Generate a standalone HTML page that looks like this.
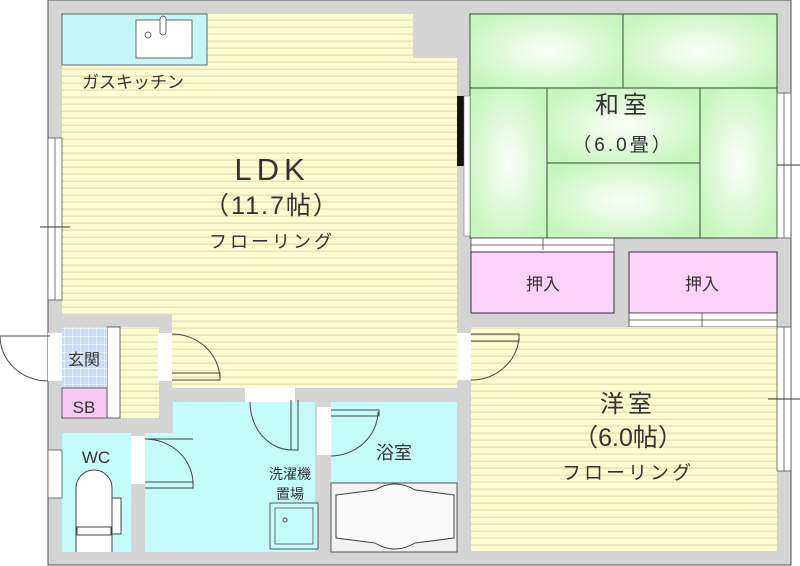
<!DOCTYPE html>
<html><head><meta charset="utf-8"><style>
html,body{margin:0;padding:0;background:#fff;width:800px;height:566px;overflow:hidden}
svg{display:block}
text{font-family:"Liberation Sans","Noto Sans CJK JP",sans-serif;fill:#333}
</style></head><body>
<svg width="800" height="566" viewBox="0 0 800 566" xmlns="http://www.w3.org/2000/svg">
<defs>
<pattern id="fl" width="8" height="7" patternUnits="userSpaceOnUse">
<rect width="8" height="7" fill="#fefdd2"/><rect y="5.5" width="8" height="1.3" fill="#e2dfae"/>
</pattern>
<radialGradient id="tg" cx="50%" cy="50%" r="60%">
<stop offset="0" stop-color="#fbfff8"/><stop offset="1" stop-color="#c6f5bd"/>
</radialGradient>
<pattern id="tile" width="8" height="8" patternUnits="userSpaceOnUse">
<rect width="8" height="8" fill="#c9dcf7"/><path d="M0 0H8M0 0V8" stroke="#ffffff" stroke-width="1"/>
</pattern>
</defs>
<rect x="48" y="0" width="743" height="565" fill="#d4d4d4" stroke="#555" stroke-width="1"/>
<rect x="62" y="14" width="395" height="300" fill="url(#fl)"/>
<rect x="172" y="300" width="285" height="88" fill="url(#fl)"/>
<rect x="120" y="327" width="39" height="91" fill="url(#fl)"/>
<rect x="107" y="327" width="13" height="91" fill="#fff" stroke="#444" stroke-width="0.8"/>
<rect x="413" y="14" width="44" height="44" fill="#d4d4d4"/>
<rect x="62" y="14" width="145" height="51" fill="#c5f7f8" stroke="#444" stroke-width="0.8"/>
<rect x="136" y="20" width="56" height="38" fill="#fff" stroke="#444" stroke-width="0.8"/>
<circle cx="148" cy="35" r="3" fill="#fff" stroke="#444" stroke-width="0.8"/>
<rect x="160" y="16" width="6" height="19" rx="3" fill="#fff" stroke="#444" stroke-width="0.8"/>
<rect x="48" y="138" width="14" height="162" fill="#fff" stroke="#555" stroke-width="0.8"/>
<line x1="55" y1="138" x2="55" y2="300" stroke="#555" stroke-width="0.8"/>
<line x1="40" y1="227" x2="70" y2="227" stroke="#333"/>
<g stroke="#3a4a3a" stroke-width="1">
<rect x="470" y="14" width="153" height="74" fill="url(#tg)"/>
<rect x="623" y="14" width="154" height="74" fill="url(#tg)"/>
<rect x="470" y="88" width="77" height="150" fill="url(#tg)"/>
<rect x="547" y="88" width="153" height="75" fill="url(#tg)"/>
<rect x="547" y="163" width="153" height="75" fill="url(#tg)"/>
<rect x="700" y="88" width="77" height="150" fill="url(#tg)"/>
</g>
<rect x="457" y="96" width="7" height="70" fill="#111"/>
<rect x="464" y="96" width="6" height="140" fill="#fff" stroke="#777" stroke-width="0.6"/>
<rect x="777" y="93" width="14" height="145" fill="#fff" stroke="#555" stroke-width="0.8"/>
<line x1="784" y1="93" x2="784" y2="238" stroke="#555" stroke-width="0.8"/>
<line x1="777" y1="165" x2="800" y2="165" stroke="#333"/>
<rect x="471" y="238" width="143" height="14" fill="#fff" stroke="#444" stroke-width="0.8"/>
<line x1="471" y1="245" x2="614" y2="245" stroke="#444" stroke-width="0.8"/>
<line x1="543" y1="238" x2="543" y2="250" stroke="#444" stroke-width="0.8"/>
<rect x="471" y="252" width="143" height="61" fill="#fdd2fb" stroke="#333" stroke-width="1"/>
<rect x="629" y="252" width="148" height="61" fill="#fdd2fb" stroke="#333" stroke-width="1"/>
<rect x="629" y="313" width="148" height="14" fill="#fff" stroke="#444" stroke-width="0.8"/>
<line x1="629" y1="320" x2="777" y2="320" stroke="#444" stroke-width="0.8"/>
<line x1="702" y1="313" x2="702" y2="327" stroke="#444" stroke-width="0.8"/>
<rect x="471" y="327" width="306" height="224" fill="url(#fl)"/>
<rect x="777" y="327" width="14" height="144" fill="#fff" stroke="#555" stroke-width="0.8"/>
<line x1="784" y1="327" x2="784" y2="471" stroke="#555" stroke-width="0.8"/>
<line x1="768" y1="399" x2="800" y2="399" stroke="#333"/>
<rect x="457" y="333" width="14" height="47" fill="#fff"/>
<path d="M471 334 H519 V341 H471 M471 380 A48 46 0 0 0 519 338" fill="none" stroke="#444"/>
<rect x="62" y="327" width="45" height="61" fill="url(#tile)"/>
<rect x="62" y="388" width="45" height="30" fill="#f8c8f4" stroke="#444" stroke-width="0.8"/>
<rect x="48" y="333" width="14" height="48" fill="#fff"/>
<path d="M0 336 H50 M0 336 A48 45 0 0 0 48 381" fill="none" stroke="#444"/>
<rect x="158" y="333" width="14" height="48" fill="#fff"/>
<path d="M172 380 H220 V373 H172 M172 334 A48 46 0 0 1 220 378" fill="none" stroke="#444"/>
<!-- washroom -->
<rect x="173" y="402" width="142" height="150" fill="#c5fbfb"/>
<rect x="145" y="433" width="170" height="119" fill="#c5fbfb"/>
<rect x="62" y="433" width="69" height="119" fill="#c5fbfb"/>
<rect x="131" y="436" width="14" height="48" fill="#fff"/>
<path d="M145 439 H193 M145 488 H193 V482 H145 M145 439 A48 45 0 0 1 193 484" fill="none" stroke="#444"/>
<rect x="48" y="450" width="14" height="48" fill="#fff" stroke="#555" stroke-width="0.8"/>
<path d="M76 552 V488 A18 18 0 0 1 112 488 V552" fill="#fff" stroke="#444"/>
<rect x="112" y="498" width="9" height="36" fill="#fff" stroke="#444"/>
<rect x="77" y="527" width="34" height="8" fill="#fff" stroke="#444"/>
<rect x="245" y="388" width="50" height="14" fill="#fff"/>
<path d="M291 400 V450 H298 V400 M250 402 A42 48 0 0 0 292 450" fill="none" stroke="#444"/>
<rect x="270" y="503" width="48" height="46" fill="#c5fbfb" stroke="#555"/>
<rect x="275" y="508" width="38" height="36" fill="none" stroke="#555" stroke-width="0.8"/>
<circle cx="285" cy="520" r="2" fill="none" stroke="#555"/>
<rect x="331" y="402" width="126" height="150" fill="#c5fbfb"/>
<rect x="317" y="407" width="14" height="48" fill="#fff"/>
<path d="M331 410 H379 V416 H331 M331 456 A48 45 0 0 0 378 412" fill="none" stroke="#444"/>
<rect x="331" y="483" width="126" height="69" fill="#f2f2f2" stroke="#555"/>
<path d="M336 495 L375 490 Q395 478 415 490 L454 495 V538 L415 543 Q395 555 375 543 L336 538 Z" fill="#fafafa" stroke="#444"/>
<text x="133" y="88" font-size="17" text-anchor="middle">ガスキッチン</text>
<text x="272" y="180" font-size="31" text-anchor="middle" letter-spacing="5">LDK</text>
<text x="272" y="214" font-size="25" text-anchor="middle" letter-spacing="2">（11.7帖）</text>
<text x="272" y="248" font-size="18" text-anchor="middle" letter-spacing="3">フローリング</text>
<text x="623" y="113" font-size="24" text-anchor="middle" letter-spacing="4">和室</text>
<text x="623" y="151" font-size="19" text-anchor="middle" letter-spacing="3">（6.0畳）</text>
<text x="543" y="290" font-size="17" text-anchor="middle">押入</text>
<text x="702" y="290" font-size="17" text-anchor="middle">押入</text>
<text x="628" y="412" font-size="24" text-anchor="middle" letter-spacing="4">洋室</text>
<text x="628" y="446" font-size="25" text-anchor="middle">（6.0帖）</text>
<text x="628" y="479" font-size="19" text-anchor="middle" letter-spacing="3">フローリング</text>
<text x="84" y="365" font-size="16" text-anchor="middle">玄関</text>
<text x="84" y="413" font-size="17" text-anchor="middle">SB</text>
<text x="96" y="463" font-size="17" text-anchor="middle">WC</text>
<text x="394" y="459" font-size="18" text-anchor="middle">浴室</text>
<text x="290" y="479" font-size="14" text-anchor="middle">洗濯機</text>
<text x="290" y="499" font-size="14" text-anchor="middle">置場</text>
</svg>
</body></html>
